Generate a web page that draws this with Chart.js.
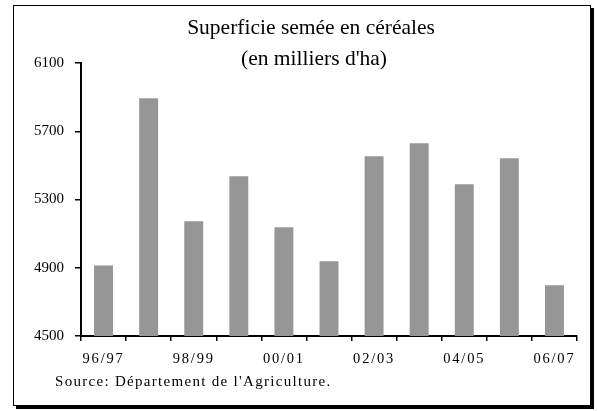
<!DOCTYPE html>
<html>
<head>
<meta charset="utf-8">
<script src="https://cdn.jsdelivr.net/npm/chart.js@4/dist/chart.umd.min.js"></script>
<style>
  body { margin: 0; background: #fff; }
  #wrap { position: relative; width: 597px; height: 411px; }
  #frame {
    position: absolute; left: 13px; top: 5px; width: 576px; height: 399px;
    border: 1.5px solid #000; box-shadow: 3px 3px 0 #000;
  }
  canvas { position: absolute; left: 0; top: 0; }
  #source {
    position: absolute; left: 55px; top: 373px;
    font-family: "Liberation Serif", serif; font-size: 15px; letter-spacing: 1.3px;
    color: #000;
  }
</style>
</head>
<body>
<div id="wrap">
  <div id="frame"></div>
  <canvas id="chart" width="597" height="411"></canvas>
  <div id="source">Source: Département de l'Agriculture.</div>
</div>
<script>
const seasons = ['96/97', '97/98', '98/99', '99/00', '00/01', '01/02', '02/03', '03/04', '04/05', '05/06', '06/07'];
const area = [4913, 5893, 5172, 5436, 5137, 4938, 5553, 5629, 5389, 5542, 4797];
const yTicks = [4500, 4900, 5300, 5700, 6100];
const titleLines = ['Superficie semée en céréales', "(en milliers d'ha)"];

const serif = '"Liberation Serif", "Times New Roman", serif';

// title drawn at fixed place, and letter spacing for the x labels
const decor = {
  id: 'decor',
  beforeDraw(chart) {
    chart.ctx.letterSpacing = '0px';
  },
  afterDatasetsDraw(chart) {
    chart.ctx.letterSpacing = '1.8px';
  },
  afterDraw(chart) {
    const ctx = chart.ctx;
    ctx.save();
    ctx.letterSpacing = '0px';
    ctx.fillStyle = '#000';
    ctx.font = '21.5px ' + serif;
    ctx.textAlign = 'center';
    ctx.textBaseline = 'alphabetic';
    ctx.fillText(titleLines[0], 311, 33.5);
    ctx.fillText(titleLines[1], 314, 65);
    ctx.restore();
  }
};

new Chart(document.getElementById('chart'), {
  type: 'bar',
  data: {
    labels: seasons,
    datasets: [{
      data: area,
      backgroundColor: '#969696',
      barPercentage: 0.42,
      categoryPercentage: 1
    }]
  },
  options: {
    responsive: false,
    animation: false,
    layout: { padding: { top: 63, left: 31, right: 20, bottom: 45 } },
    plugins: {
      legend: { display: false },
      title: { display: false },
      tooltip: { enabled: false }
    },
    scales: {
      x: {
        afterFit: (s) => { s.height = 30; },
        border: { color: '#000', width: 2 },
        grid: { display: true, drawOnChartArea: false, color: '#000', lineWidth: 1.5, tickLength: 5 },
        ticks: {
          z: 1,
          color: '#000',
          font: { family: serif, size: 14.5 },
          padding: 9,
          autoSkip: false,
          maxRotation: 0,
          callback: (v, i) => (i % 2 === 0 ? seasons[i] : '')
        }
      },
      y: {
        min: yTicks[0],
        max: yTicks[yTicks.length - 1],
        afterFit: (s) => { s.width = 50; },
        afterBuildTicks: (s) => { s.ticks = yTicks.map((v) => ({ value: v })); },
        border: { color: '#000', width: 2 },
        grid: { display: true, drawOnChartArea: false, color: '#000', lineWidth: 1.5, tickLength: 6 },
        ticks: {
          color: '#000',
          font: { family: serif, size: 15 },
          padding: 11,
          callback: (v) => String(v)
        }
      }
    }
  },
  plugins: [decor]
});
</script>
</body>
</html>
